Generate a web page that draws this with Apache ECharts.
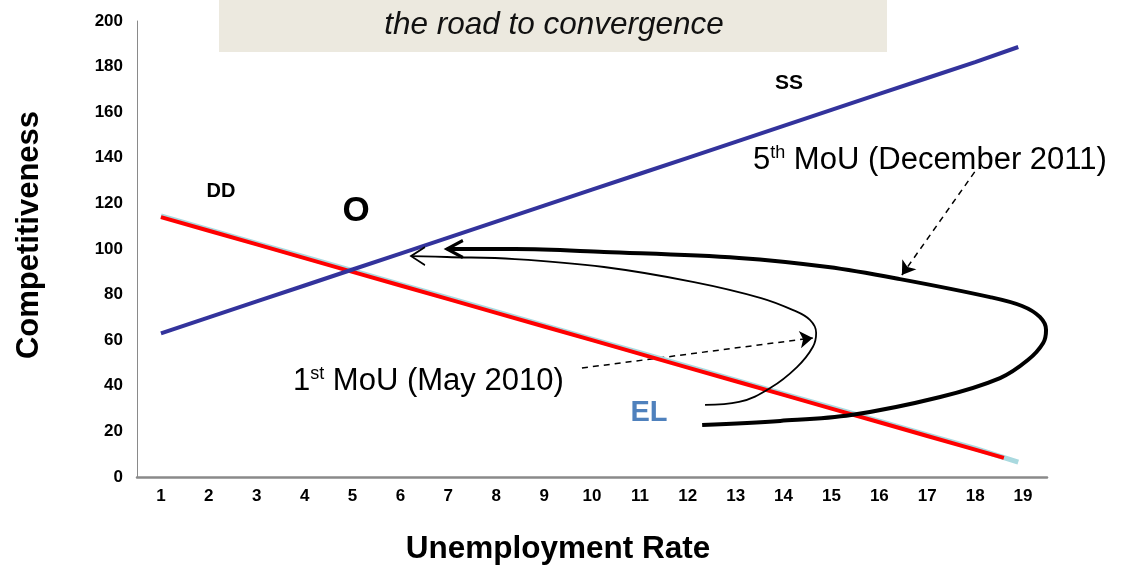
<!DOCTYPE html>
<html lang="en">
  <head>
    <meta charset="UTF-8" />
    <meta name="viewport" content="width=device-width, initial-scale=1.0" />
    <script src="https://cdn.jsdelivr.net/npm/echarts@6/dist/echarts.min.js"></script>
    <title>the road to convergence</title>
    <style>
      html, body { margin: 0; padding: 0; background: #fff; }
    </style>
  </head>
  <body>
    <div id="main" style="width: 1123px; height: 566px"></div>
    <script>
      // tick labels of the x axis
      const xTicks = ["1", "2", "3", "4", "5", "6", "7", "8", "9", "10", "11", "12", "13", "14", "15", "16", "17", "18", "19"];

      // SS curve
      const ssX = [1, 2, 3, 4, 5, 6, 7, 8, 9, 10, 11, 12, 13, 14, 15, 16, 17, 18, 18.9];
      const ssY = [63, 70, 77, 84, 91, 98, 105, 112, 119, 126, 133, 140, 147, 154, 161, 168, 175, 182, 188.6];

      // DD curve (red) and its light shadow
      const ddX = [1, 2, 3, 4, 5, 6, 7, 8, 9, 10, 11, 12, 13, 14, 15, 16, 17, 18, 18.6];
      const ddY = [114, 108, 102, 96, 90, 84, 78, 72, 66, 60, 54, 48, 42, 36, 30, 24, 18, 12, 8.4];
      const shadowX = [1, 2, 3, 4, 5, 6, 7, 8, 9, 10, 11, 12, 13, 14, 15, 16, 17, 18, 18.9];
      const shadowY = [114.5, 108.5, 102.5, 96.5, 90.5, 84.5, 78.5, 72.5, 66.5, 60.5, 54.5, 48.5, 42.5, 36.5, 30.5, 24.5, 18.5, 12.5, 6.5];

      // 5th MoU path (thick loop)
      const bigX = [12.3, 13.93, 15.41, 17.27, 18.52, 19.1, 19.42, 19.48, 19.35, 18.98, 18.31, 16.43, 14.93, 13.07, 10.25, 8.39, 6.97];
      const bigY = [22.8, 24.6, 27.2, 35.1, 43.4, 51.3, 58.8, 64.5, 70.2, 75.0, 78.9, 86.8, 92.1, 96.1, 98.7, 100, 100];

      // 1st MoU path (thin loop)
      const smallX = [12.36, 13.07, 13.72, 14.28, 14.61, 14.68, 14.55, 14.2, 13.53, 12.13, 10.25, 8.39, 6.97, 6.22];
      const smallY = [31.6, 32.9, 39.0, 48.2, 57.0, 63.2, 68.9, 73.2, 78.5, 85.5, 92.1, 95.6, 96.5, 96.9];

      // dashed pointers [from, to]
      const pointer5th = [[17.99, 133.8], [16.47, 88.6]];
      const pointer1st = [[9.79, 47.8], [14.61, 61.0]];

      const pairs = (xs, ys) => xs.map((x, i) => [x, ys[i]]);

      function withArrow(pts, w, h, width) {
        return pts.map((p, i) =>
          i === pts.length - 1
            ? {
                value: p,
                symbol: "path://M10,0 L0,10 L10,20",
                symbolSize: [w, h],
                symbolOffset: [w / 2, 0],
                itemStyle: { color: "transparent", borderColor: "#000", borderWidth: width },
              }
            : { value: p, symbol: "none" }
        );
      }

      const font = "'Liberation Sans', Arial, sans-serif";
      const supStyle = { fontSize: 18, fontFamily: font, fill: "#000", verticalAlign: "top", padding: [0, 0, 14, 0] };

      const chart = echarts.init(document.getElementById("main"));
      chart.setOption({
        animation: false,
        grid: { left: 137, right: 76, top: 21, bottom: 89, containLabel: false },
        xAxis: [
          {
            type: "category",
            data: xTicks,
            boundaryGap: true,
            axisLine: { lineStyle: { color: "#8a8a8a", width: 2.5 } },
            axisTick: { show: false },
            axisLabel: { fontFamily: font, fontWeight: "bold", fontSize: 17, color: "#000", margin: 11 },
            splitLine: { show: false },
          },
          { type: "value", min: 0.5, max: 19.5, show: false },
        ],
        yAxis: {
          type: "value",
          min: 0,
          max: 200,
          interval: 20,
          axisLine: { show: true, lineStyle: { color: "#8a8a8a", width: 1 } },
          axisTick: { show: false },
          axisLabel: { fontFamily: font, fontWeight: "bold", fontSize: 17, color: "#000", margin: 14 },
          splitLine: { show: false },
        },
        series: [
          {
            type: "line",
            xAxisIndex: 1,
            data: pairs(shadowX, shadowY),
            symbol: "none",
            lineStyle: { color: "#a9d9df", width: 5 },
          },
          {
            type: "line",
            xAxisIndex: 1,
            data: pairs(ddX, ddY),
            symbol: "none",
            lineStyle: { color: "#ff0000", width: 4 },
          },
          {
            type: "line",
            xAxisIndex: 1,
            data: pairs(ssX, ssY),
            symbol: "none",
            lineStyle: { color: "#33339c", width: 4 },
          },
          {
            type: "line",
            xAxisIndex: 1,
            clip: false,
            smooth: 0.35,
            smoothConstraint: false,
            data: withArrow(pairs(bigX, bigY), 16, 17, 3),
            lineStyle: { color: "#000", width: 4 },
          },
          {
            type: "line",
            xAxisIndex: 1,
            clip: false,
            smooth: 0.4,
            smoothConstraint: false,
            data: withArrow(pairs(smallX, smallY), 14, 18, 1.6),
            lineStyle: { color: "#000", width: 1.8 },
          },
          {
            type: "lines",
            coordinateSystem: "cartesian2d",
            xAxisIndex: 1,
            symbol: ["none", "arrow"],
            symbolSize: 13,
            lineStyle: { color: "#000", width: 1.5, type: [6, 5], opacity: 1 },
            data: [{ coords: pointer5th }, { coords: pointer1st }],
          },
        ],
        graphic: [
          {
            type: "rect",
            left: 219,
            top: 0,
            shape: { width: 668, height: 52 },
            style: { fill: "#ece9df" },
            z: -1,
          },
          {
            type: "text",
            x: 554,
            y: 25,
            style: {
              text: "the road to convergence",
              font: "italic 31.5px " + font,
              fill: "#111",
              align: "center",
              verticalAlign: "middle",
            },
          },
          {
            type: "text",
            x: 29,
            y: 235,
            rotation: Math.PI / 2,
            style: {
              text: "Competitiveness",
              font: "bold 31px " + font,
              fill: "#000",
              align: "center",
              verticalAlign: "middle",
            },
          },
          {
            type: "text",
            x: 558,
            y: 549,
            style: {
              text: "Unemployment Rate",
              font: "bold 31.5px " + font,
              fill: "#000",
              align: "center",
              verticalAlign: "middle",
            },
          },
          {
            type: "text",
            x: 753,
            y: 160,
            style: {
              text: "5{sup|th} MoU (December 2011)",
              font: "31px " + font,
              fill: "#000",
              verticalAlign: "middle",
              rich: { sup: supStyle },
            },
          },
          {
            type: "text",
            x: 293,
            y: 381,
            style: {
              text: "1{sup|st} MoU (May 2010)",
              font: "31px " + font,
              fill: "#000",
              verticalAlign: "middle",
              rich: { sup: supStyle },
            },
          },
          {
            type: "text",
            x: 789,
            y: 83,
            style: { text: "SS", font: "bold 21px " + font, fill: "#000", align: "center", verticalAlign: "middle" },
          },
          {
            type: "text",
            x: 221,
            y: 191,
            style: { text: "DD", font: "bold 20px " + font, fill: "#000", align: "center", verticalAlign: "middle" },
          },
          {
            type: "text",
            x: 356,
            y: 211,
            style: { text: "O", font: "bold 35px " + font, fill: "#000", align: "center", verticalAlign: "middle" },
          },
          {
            type: "text",
            x: 649,
            y: 413,
            style: { text: "EL", font: "bold 29px " + font, fill: "#4f81bd", align: "center", verticalAlign: "middle" },
          },
        ],
      });
    </script>
  </body>
</html>
